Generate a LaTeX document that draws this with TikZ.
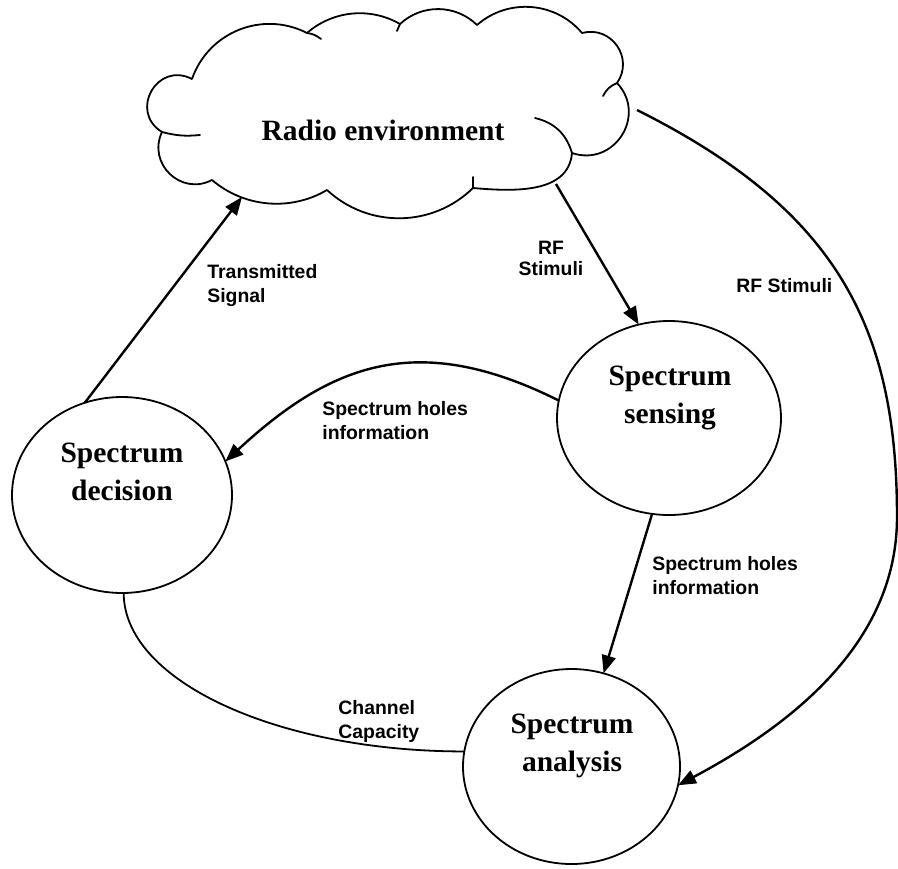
\documentclass[tikz,border=0pt]{standalone}
\usepackage{fontspec}
\setmainfont{Liberation Serif}
\newfontfamily\labelfont{Liberation Sans}
\usetikzlibrary{arrows.meta,shapes.geometric}

\begin{document}
\begin{tikzpicture}[x=0.5pt,y=-0.5pt,
  cloudline/.style={line width=0.9pt, line join=round, line cap=round},
  stage/.style={ellipse, draw, line width=0.9pt, inner sep=0pt, outer sep=0pt},
  stagetext/.style={font=\fontsize{14.75pt}{19pt}\selectfont\bfseries, align=center, anchor=base, inner sep=0pt},
  note/.style={font=\labelfont\fontsize{9.7pt}{11.8pt}\selectfont\bfseries, align=left, anchor=base west, inner sep=0pt},
  flow/.style={line width=1.2pt, -{Triangle[length=9pt,width=7pt]}},
  link/.style={line width=0.9pt}]
\useasboundingbox (0,0) rectangle (898,868);

% ---- radio environment cloud ----
\draw[cloudline] (192,79)
  to[bend left=49, looseness=1.03] (307,33)
  to[bend left=35.5, looseness=.94] (400,24)
  to[bend left=43.6, looseness=.99] (477,25)
  to[bend left=45.6, looseness=1.0] (582,33)
  to[bend left=70, looseness=1.27] (617,83)
  to[bend left=76, looseness=1.37] (572,153)
  to[out=-95, in=-5, looseness=1.0] (473,188)
  to[bend left=43.6, looseness=.99] (327,190)
  to[bend left=35.5, looseness=.94] (212,180)
  to[bend left=71.5, looseness=1.29] (162,132)
  to[bend left=88, looseness=1.65] (192,79);
% inner curls of the puffs
\draw[cloudline] (535,118) to[bend left=30] (572,153);
\draw[cloudline] (162,132) to[bend right=10] (200,135);
\draw[cloudline] (617,83) to[bend right=20] (603,96);
\draw[cloudline] (307,33) to[bend left=15] (321,39);
\draw[cloudline] (473,177) -- (473,188);
\draw[cloudline] (397,31) -- (400,24);
\node[stagetext] (env) at (383,140) {Radio environment};

% attachment points on the cloud outline
\coordinate (cloud-tx) at (242,197);
\coordinate (cloud-rf) at (556,184);
\coordinate (cloud-east) at (637,110);
\coordinate (arc-east) at (897,517);

% ---- processing stages ----
\node[stage, minimum width=110pt, minimum height=98pt] (decision) at (122,495) {};
\node[stage, minimum width=112pt, minimum height=97pt] (sensing) at (669,418) {};
\node[stage, minimum width=108.5pt, minimum height=97.5pt] (analysis) at (571.5,766.5) {};

% (base anchor of a two-line node sits on its last line)
\node[stagetext] (decision-t) at (122,500) {Spectrum\\decision};
\node[stagetext] (sensing-t) at (670,423) {Spectrum\\sensing};
\node[stagetext] (analysis-t) at (572,771) {Spectrum\\analysis};

% ---- connectors ----
\draw[flow] (decision.112) -- (cloud-tx);
\draw[flow] (cloud-rf) -- (sensing.108);
\draw[flow] (sensing.260) -- (analysis.71);
\draw[flow] (sensing.171) .. controls +(-140,-70) and +(107,-99) .. (decision.18);
\draw[link] (decision.271) .. controls +(0,88) and +(-187,0) .. (analysis.172);
\draw[flow] (cloud-east) .. controls +(200,100) and +(0,-190) .. (arc-east)
  .. controls +(0,80) and +(177,-94) .. (analysis.-10.5);

% ---- connector labels ----
\node[note] (l-tx) at (207,302) {Transmitted\\Signal};
\node[note, align=center, anchor=base, font=\labelfont\fontsize{9.7pt}{10.2pt}\selectfont\bfseries] (l-rf) at (551,275) {RF\\Stimuli};
\node[note] (l-rf2) at (736,292) {RF Stimuli};
\node[note] (l-holes1) at (322,439) {Spectrum holes\\information};
\node[note] (l-holes2) at (652,594) {Spectrum holes\\information};
\node[note] (l-cap) at (338,738) {Channel\\Capacity};
\end{tikzpicture}
\end{document}
